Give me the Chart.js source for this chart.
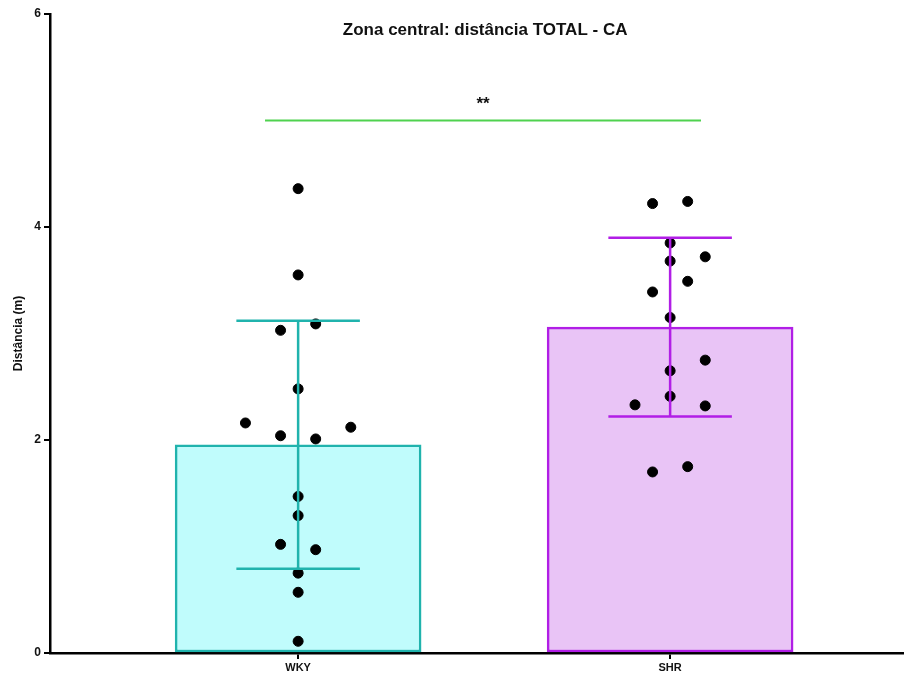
<!DOCTYPE html>
<html>
<head>
<meta charset="utf-8">
<script src="https://cdn.jsdelivr.net/npm/chart.js@4"></script>
<style>
  html, body { margin: 0; padding: 0; background: #fff; overflow: hidden; }
  #wrap { width: 909px; height: 679px; }
</style>
</head>
<body>
<div id="wrap"><canvas id="chart"></canvas></div>
<script>
// group labels and positions on the x axis
const groups = ['WKY', 'SHR'];
const groupPos = [1, 2];

// bar heights (mean) and error bars (SD)
const means = [1.955, 3.06];
const sds = [1.165, 0.84];

// individual animals
const wkyValues = [4.36, 3.55, 3.09, 3.03, 2.48, 2.16, 2.12, 2.04, 2.01, 1.47, 1.29, 1.02, 0.97, 0.75, 0.57, 0.11];
const wkyJitter = [0, 0, 1, -1, 0, -3, 3, -1, 1, 0, 0, -1, 1, 0, 0, 0];
const shrValues = [4.22, 4.24, 3.85, 3.68, 3.72, 3.49, 3.39, 3.15, 2.75, 2.65, 2.41, 2.33, 2.32, 1.70, 1.75];
const shrJitter = [-1, 1, 0, 0, 2, 1, -1, 0, 2, 0, 0, -2, 2, -1, 1];

// significance bracket
const sigFrom = [0.911, 5];
const sigTo = [2.083, 5];
const sigLabel = '**';

const yTicks = [0, 2, 4, 6];
const titleText = 'Zona central: distância TOTAL - CA';
const yTitle = 'Distância (m)';

const fillColors = ['#c0fcfc', '#e9c4f6'];
const lineColors = ['#20b3ad', '#b11ee6'];
const jitterStep = 0.0472;
const capHalf = 0.166;

function buildPoints(vals, jit, pos) {
  return vals.map((v, i) => ({ x: pos + jit[i] * jitterStep, y: v }));
}

const points = buildPoints(wkyValues, wkyJitter, groupPos[0])
  .concat(buildPoints(shrValues, shrJitter, groupPos[1]));

// error bars + text on top of everything
const extrasPlugin = {
  id: 'extras',
  afterDatasetsDraw(chart) {
    const ctx = chart.ctx;
    const xs = chart.scales.x, ys = chart.scales.y;
    ctx.save();
    groupPos.forEach((p, i) => {
      const x = xs.getPixelForValue(p);
      const xl = xs.getPixelForValue(p - capHalf);
      const xr = xs.getPixelForValue(p + capHalf);
      const yt = ys.getPixelForValue(means[i] + sds[i]);
      const yb = ys.getPixelForValue(means[i] - sds[i]);
      ctx.strokeStyle = lineColors[i];
      ctx.lineWidth = 2.5;
      ctx.beginPath();
      ctx.moveTo(x, yt); ctx.lineTo(x, yb);
      ctx.moveTo(xl, yt); ctx.lineTo(xr, yt);
      ctx.moveTo(xl, yb); ctx.lineTo(xr, yb);
      ctx.stroke();
    });
    ctx.restore();
  },
  afterDraw(chart) {
    const ctx = chart.ctx;
    const xs = chart.scales.x, ys = chart.scales.y;
    ctx.save();
    ctx.fillStyle = '#111';
    ctx.textAlign = 'center';
    ctx.textBaseline = 'middle';
    ctx.font = 'bold 17px "Liberation Sans", Arial, sans-serif';
    ctx.fillText(titleText, xs.getPixelForValue(1.5) + 1, 30);
    const mx = xs.getPixelForValue((sigFrom[0] + sigTo[0]) / 2);
    ctx.fillText(sigLabel, mx, ys.getPixelForValue(sigFrom[1]) - 16);
    ctx.restore();
  }
};

new Chart(document.getElementById('chart'), {
  type: 'bar',
  data: {
    datasets: [
      {
        type: 'scatter',
        data: points,
        backgroundColor: '#000',
        borderColor: '#000',
        pointRadius: 5,
        pointHoverRadius: 5,
        order: 0
      },
      {
        type: 'line',
        data: [{ x: sigFrom[0], y: sigFrom[1] }, { x: sigTo[0], y: sigTo[1] }],
        borderColor: '#4fd24f',
        borderWidth: 2,
        pointRadius: 0,
        order: 1
      },
      {
        type: 'bar',
        data: groupPos.map((p, i) => ({ x: p, y: means[i] })),
        backgroundColor: fillColors,
        borderColor: lineColors,
        borderWidth: 2.5,
        borderSkipped: false,
        barThickness: 246,
        order: 2
      }
    ]
  },
  options: {
    responsive: true,
    maintainAspectRatio: false,
    animation: false,
    layout: { padding: { top: 14, right: 0, left: 0, bottom: 0 } },
    plugins: { legend: { display: false }, tooltip: { enabled: false } },
    scales: {
      x: {
        type: 'linear',
        min: 0.333,
        max: 2.626,
        offset: false,
        afterBuildTicks: (s) => { s.ticks = groupPos.map(v => ({ value: v })); },
        afterFit: (s) => { s.height = 26; },
        ticks: {
          callback: (v) => groups[groupPos.indexOf(v)] || '',
          color: '#111',
          padding: 2,
          font: { family: '"Liberation Sans", Arial, sans-serif', size: 11, weight: 'bold' },
          maxRotation: 0
        },
        grid: { offset: false, drawOnChartArea: false, drawTicks: true, tickLength: 6, color: '#000', lineWidth: 2 },
        border: { display: true, color: '#000', width: 2.5 }
      },
      y: {
        min: 0,
        max: 6,
        afterBuildTicks: (s) => { s.ticks = yTicks.map(v => ({ value: v })); },
        afterFit: (s) => { s.width = 50; },
        title: {
          display: true,
          text: yTitle,
          color: '#111',
          padding: { top: 11, bottom: 6 },
          font: { family: '"Liberation Sans", Arial, sans-serif', size: 12, weight: 'bold' }
        },
        ticks: {
          color: '#111',
          padding: 3,
          font: { family: '"Liberation Sans", Arial, sans-serif', size: 12, weight: 'bold' }
        },
        grid: { drawOnChartArea: false, drawTicks: true, tickLength: 6, color: '#000', lineWidth: 2 },
        border: { display: true, color: '#000', width: 2.5 }
      }
    }
  },
  plugins: [extrasPlugin]
});
</script>
</body>
</html>
